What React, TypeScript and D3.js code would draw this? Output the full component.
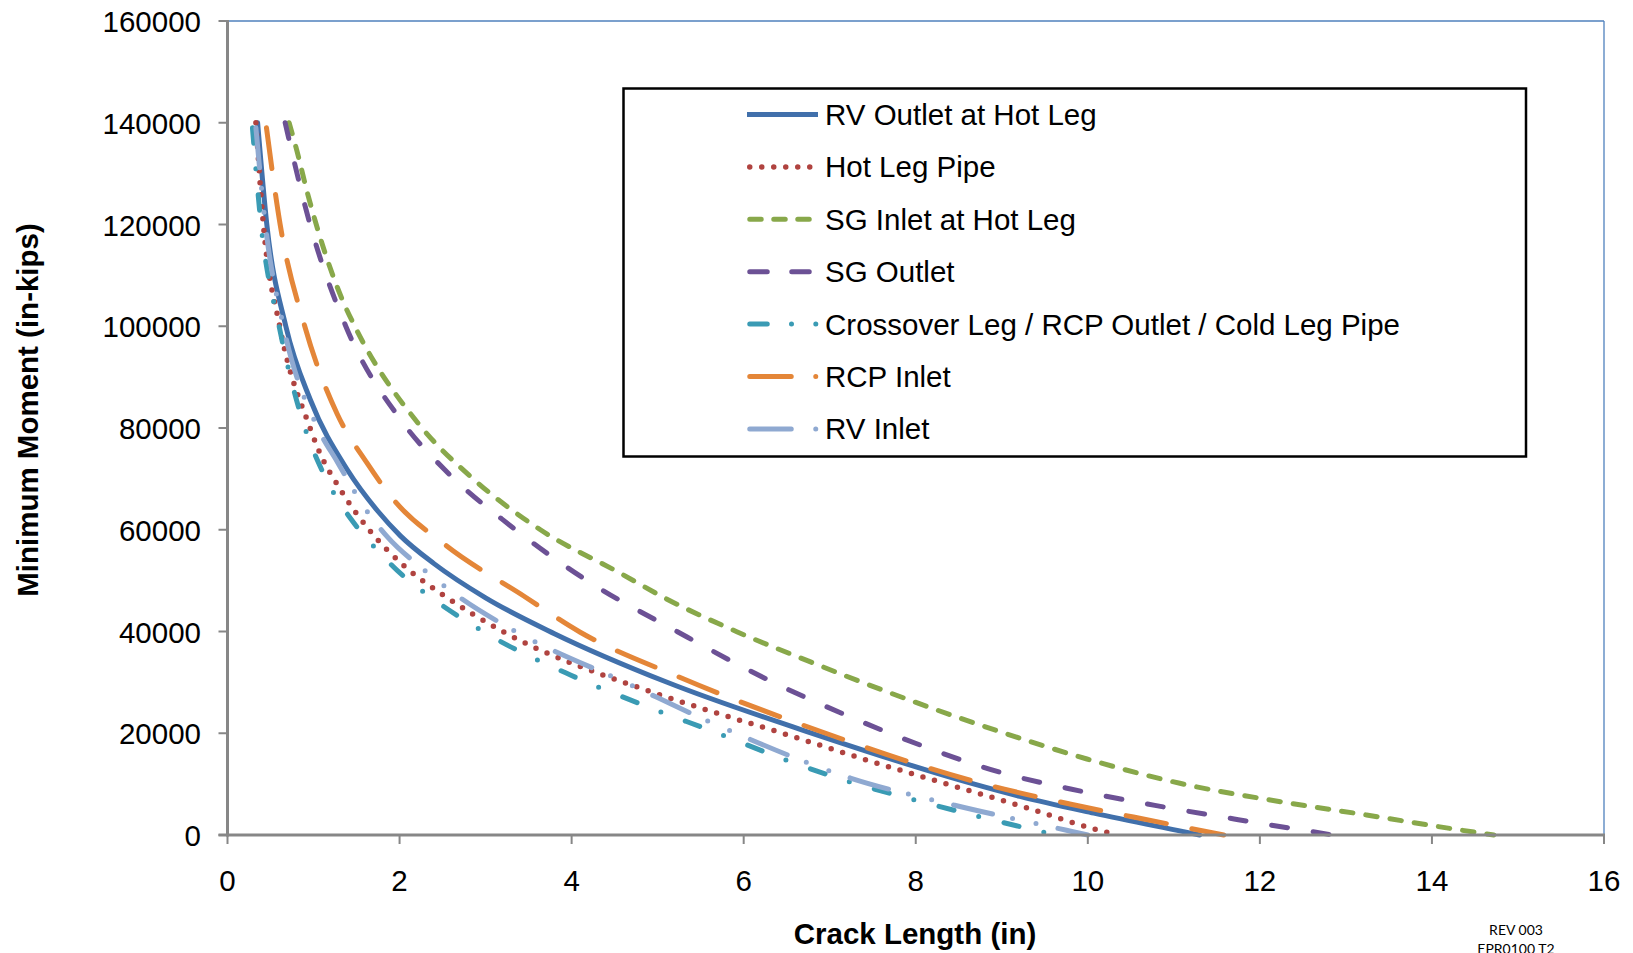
import React from "react";
import * as d3 from "d3";

// ---- data (crack length in inches, minimum moment in in-kips) ----
const xTickValues = [0, 2, 4, 6, 8, 10, 12, 14, 16];
const yTickValues = [0, 20000, 40000, 60000, 80000, 100000, 120000, 140000, 160000];

const seriesNames = [
  "RV Outlet at Hot Leg",
  "Hot Leg Pipe",
  "SG Inlet at Hot Leg",
  "SG Outlet",
  "Crossover Leg / RCP Outlet / Cold Leg Pipe",
  "RCP Inlet",
  "RV Inlet",
];

const rvOutletX = [0.35, 0.457, 0.678, 0.964, 1.391, 1.746, 2.01, 2.4, 3.0, 3.8, 5.11, 6.77, 8.66, 9.21, 10.07, 11.04, 11.3];
const rvOutletY = [140000, 120000, 100000, 85500, 71840, 63680, 58800, 53340, 46620, 39580, 30020, 20140, 10100, 7600, 4300, 900, 0];

const hotLegX = [0.33, 0.417, 0.607, 0.96, 1.042, 1.321, 1.654, 2.049, 2.494, 3.2, 4.84, 5.51, 6.45, 7.43, 8.44, 9.25, 10.05, 10.35];
const hotLegY = [140000, 120000, 100000, 80000, 76330, 67680, 59820, 52940, 47310, 40000, 28630, 24900, 20000, 14740, 9630, 5570, 1310, 0];

const sgInletX = [0.716, 0.794, 0.93, 1.123, 1.336, 1.479, 2.223, 2.862, 3.637, 4.567, 5.09, 5.92, 6.77, 7.36, 8.17, 8.98, 9.99, 11.07, 12.12, 13.24, 14.33, 14.72];
const sgInletY = [140000, 135300, 126130, 114990, 105160, 100000, 80780, 69910, 60000, 51440, 46520, 39960, 34070, 30130, 25030, 20310, 14940, 10160, 6880, 3930, 980, 0];

const sgOutletX = [0.67, 0.96, 1.375, 2.03, 2.56, 3.288, 4.18, 5.225, 6.27, 7.16, 8.05, 8.97, 9.8, 10.78, 11.75, 12.85];
const sgOutletY = [140000, 120000, 100000, 81230, 71220, 60800, 50000, 40000, 30600, 23780, 17690, 12380, 9040, 5820, 3010, 0];

const crossoverX = [0.29, 0.39, 0.6, 0.9, 1.1, 1.487, 1.758, 2.03, 2.223, 2.97, 3.986, 4.87, 5.69, 6.5, 7.24, 7.99, 8.74, 9.49, 9.62];
const crossoverY = [139000, 120000, 100000, 80000, 71610, 60930, 55690, 51110, 48490, 40000, 31450, 25290, 20050, 14680, 10420, 6880, 3600, 520, 0];

const rcpInletX = [0.453, 0.612, 0.898, 1.275, 1.619, 1.933, 2.533, 3.443, 4.1, 5.23, 6.88, 8.78, 9.79, 10.8, 11.58];
const rcpInletY = [139000, 120000, 100000, 82750, 73180, 65850, 57000, 46980, 39860, 31190, 20440, 10080, 6090, 2620, 0];

const rvInletX = [0.33, 0.44, 0.65, 1.05, 1.275, 1.631, 1.856, 2.262, 2.688, 3.35, 4.62, 5.83, 7.24, 8.44, 9.74, 10.0];
const rvInletY = [139000, 120000, 100000, 80000, 73380, 63430, 58640, 52420, 46840, 40000, 30000, 20570, 11200, 5900, 980, 0];

// ---- styles ----
const colors = ["#4170AB", "#B04340", "#88A84A", "#6C5195", "#3A9BB4", "#E48638", "#8FA9D1"];
const plotDash = ["", "0 12", "11.5 13", "16 26", "15.5 25.5 0 26", "41 26", "40 20.5 0 24 0 22.5"];
const legendDash = ["", "0 12", "11.5 12.5", "17.5 24.5", "17.5 24.25 0 24.3 0 100", "41.5 24.5 0 100", "41.5 24.5 0 100"];
const widths = [5, 5.5, 5, 5, 5, 5, 5];

const W = 1633;
const H = 953;
const FONT = "'Liberation Sans', Arial, Helvetica, sans-serif";

export default function App() {
  const x = d3.scaleLinear().domain([0, 16]).range([227.5, 1604]);
  const y = d3.scaleLinear().domain([0, 160000]).range([835, 21]);

  const xs = [rvOutletX, hotLegX, sgInletX, sgOutletX, crossoverX, rcpInletX, rvInletX];
  const ys = [rvOutletY, hotLegY, sgInletY, sgOutletY, crossoverY, rcpInletY, rvInletY];
  const series = seriesNames.map((name, i) => ({
    name,
    points: xs[i].map((v, j) => [v, ys[i][j]] as [number, number]),
  }));

  const line = d3
    .line<[number, number]>()
    .x((d) => x(d[0]))
    .y((d) => y(d[1]))
    .curve(d3.curveMonotoneX);

  const legendTop = 114.5;
  const legendStep = 52.4;

  return (
    <svg
      width={W}
      height={H}
      viewBox={`0 0 ${W} ${H}`}
      style={{ position: "absolute", left: 0, top: 0, display: "block", background: "#fff" }}
    >
      <rect x={0} y={0} width={W} height={H} fill="#fff" />
      {/* plot frame (top & right) */}
      <line x1={x(0)} x2={x(16)} y1={y(160000)} y2={y(160000)} stroke="#4F81BD" strokeWidth={1.3} />
      <line x1={x(16)} x2={x(16)} y1={y(160000)} y2={y(0)} stroke="#4F81BD" strokeWidth={1.3} />

      {/* series */}
      <g fill="none" strokeLinecap="round" strokeLinejoin="round">
        {series.map((s, i) => (
          <path
            key={s.name}
            d={line(s.points) || ""}
            stroke={colors[i]}
            strokeWidth={widths[i]}
            strokeDasharray={plotDash[i] || undefined}
          />
        ))}
      </g>

      {/* axes */}
      <g stroke="#878787" strokeWidth={3}>
        <line x1={x(0)} x2={x(0)} y1={y(160000) - 1} y2={y(0) + 1.5} />
        <line x1={x(0) - 9} x2={x(16) + 1} y1={y(0)} y2={y(0)} />
        {yTickValues.map((t) => (
          <line key={"yt" + t} x1={x(0) - 9} x2={x(0)} y1={y(t)} y2={y(t)} strokeWidth={2} />
        ))}
        {xTickValues.map((t) => (
          <line key={"xt" + t} x1={x(t)} x2={x(t)} y1={y(0)} y2={y(0) + 9} strokeWidth={2} />
        ))}
      </g>

      {/* tick labels */}
      <g fontFamily={FONT} fontSize={29.5} fill="#000">
        {yTickValues.map((t) => (
          <text key={"yl" + t} x={201} y={y(t) + 11} textAnchor="end">
            {String(t)}
          </text>
        ))}
        {xTickValues.map((t) => (
          <text key={"xl" + t} x={x(t)} y={890.5} textAnchor="middle">
            {String(t)}
          </text>
        ))}
      </g>

      {/* axis titles */}
      <text
        x={915}
        y={943.5}
        textAnchor="middle"
        fontFamily={FONT}
        fontWeight="bold"
        fontSize={29.5}
        fill="#000"
      >
        Crack Length (in)
      </text>
      <text
        transform="translate(38,410) rotate(-90)"
        textAnchor="middle"
        fontFamily={FONT}
        fontWeight="bold"
        fontSize={29.5}
        fill="#000"
      >
        Minimum Moment (in-kips)
      </text>

      {/* legend */}
      <rect x={623.5} y={88.5} width={902.5} height={368} fill="#fff" stroke="#000" strokeWidth={2.5} />
      {seriesNames.map((name, i) => {
        const ly = legendTop + i * legendStep;
        return (
          <g key={"lg" + i}>
            <line
              x1={i === 0 ? 747 : 749.75}
              x2={i === 0 ? 818 : 816}
              y1={ly}
              y2={ly}
              stroke={colors[i]}
              strokeWidth={widths[i]}
              strokeLinecap={i === 0 ? "butt" : "round"}
              strokeDasharray={legendDash[i] || undefined}
            />
            <text x={825} y={ly + 10.5} fontFamily={FONT} fontSize={29.5} fill="#000">
              {name}
            </text>
          </g>
        );
      })}

      {/* revision stamp */}
      <g fontFamily="Lato, 'Open Sans', sans-serif" fontSize={14} fill="#000" textAnchor="middle">
        <text x={1516} y={935}>REV 003</text>
        <text x={1516} y={953.5}>EPR0100 T2</text>
      </g>
    </svg>
  );
}
